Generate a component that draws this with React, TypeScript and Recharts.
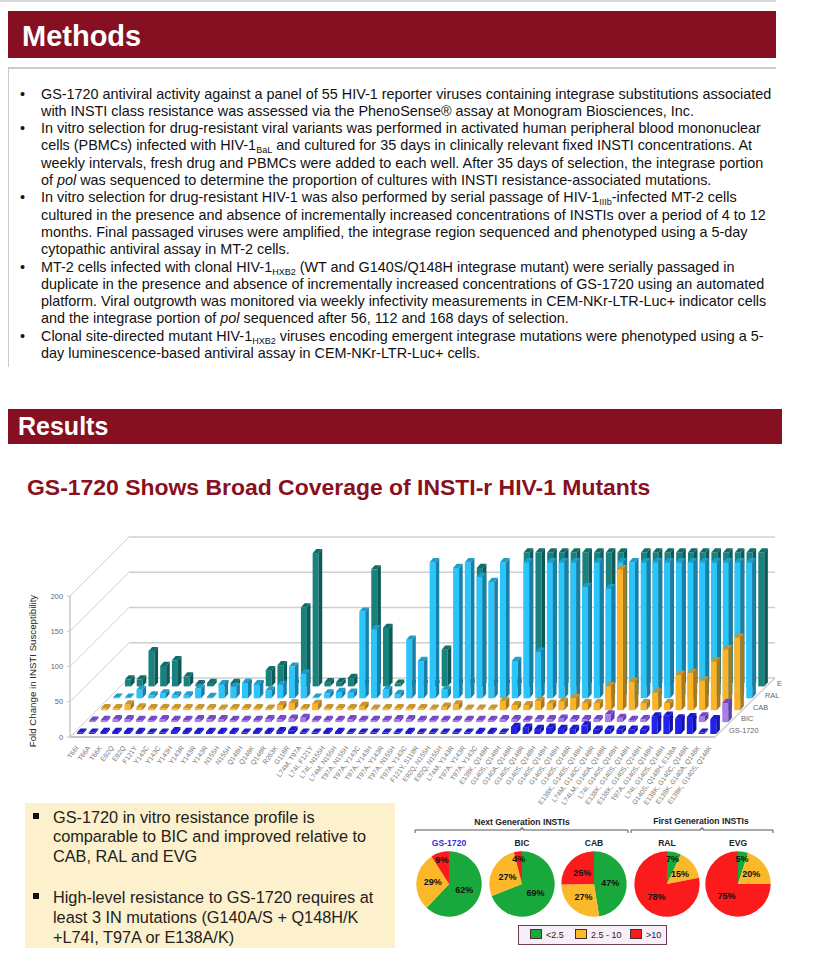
import { Bar, BarChart, Cell, Pie, PieChart, XAxis, YAxis } from "recharts";

const mutants = [
  "T66I", "T66A", "T66K", "E92Q", "E92Q", "F121Y", "Y143C", "Y143C", "Y143H", "Y143R", "Y143R", "Y143R",
  "N155H", "N155H", "Q148H", "Q148K", "Q148R", "R263K", "G118R", "L74M, T97A", "L74I, F121Y", "L74I, N155H",
  "L74M, N155H", "T97A, N155H", "T97A, Y143C", "T97A, Y143H", "T97A, Y143R", "T97A, N155H", "T97A, Y143C",
  "F121Y, S119R", "E92Q, N155H", "E92Q, N155H", "L74M, Y143R", "T97A, Y143R", "T97A, Y143C", "E138K, Q148R",
  "G140S, Q148H", "G140A, Q148R", "G140S, Q148R", "G140S, Q148H", "G140S, Q148H", "G140S, Q148H", "G140S, Q148R",
  "E138K, G140S, Q148H", "L74M, G140C, Q148R", "L74I,M, G140A, Q148R", "L74I, G140S, Q148H", "E138K, G140S, Q148H",
  "E138K, G140S, Q148H", "T97A, G140S, Q148H", "L74I, G140S, Q148H", "G140S, Q148H, E138A", "E138K, G140C, Q148R",
  "E138K, G140A, Q148K", "E138K, G140S, Q148K"
];

const gs1720 = [
  2, 2, 3, 3, 3, 3, 2, 2, 4, 3, 3, 3, 3, 3, 2, 3, 3, 4, 5, 2, 2, 3, 3, 2, 2, 2, 2, 2, 3, 2, 2, 2, 2, 2, 3, 3, 2,
  10, 9, 7, 9, 7, 7, 12, 6, 6, 6, 6, 6, 25, 26, 22, 24, 2, 21
];
const bic = [
  2, 3, 4, 4, 3, 3, 4, 3, 3, 4, 4, 4, 3, 3, 3, 4, 4, 5, 6, 3, 3, 3, 4, 3, 3, 3, 4, 4, 3, 3, 3, 3, 3, 3, 3, 4, 4,
  3, 4, 4, 5, 4, 4, 4, 11, 6, 3, 4, 3, 3, 3, 3, 8, 3, 27
];
const cab = [
  3, 3, 8, 4, 3, 3, 3, 3, 3, 3, 2, 3, 3, 3, 2, 7, 10, 3, 9, 3, 3, 3, 6, 2, 3, 3, 3, 3, 2, 5, 8, 2, 2, 2, 13, 7, 7,
  13, 9, 12, 17, 10, 10, 34, 200, 40, 10, 25, 10, 50, 53, 42, 69, 86, 103
];
const ral = [
  1, 1, 12, 4, 7, 4, 4, 14, 2, 20, 16, 22, 20, 11, 19, 45, 35, 1, 7, 9, 8, 123, 98, 12, 6, 83, 53, 193, 12, 185,
  193, 172, 165, 193, 53, 193, 66, 193, 193, 193, 158, 193, 156, 193, 193, 193, 193, 193, 193, 193, 193, 193, 193,
  193, 193
];
const evg = [
  10, 10, 50, 29, 37, 14, 3, 5, 3, 5, 3, 3, 23, 30, 4, 112, 189, 6, 6, 12, 3, 166, 83, 4, 3, 3, 3, 52, 5, 5, 168,
  4, 4, 5, 190, 190, 190, 190, 190, 190, 190, 190, 190, 4, 190, 190, 190, 190, 190, 190, 190, 190, 190, 190, 190
];

const foldTicks = [0, 50, 100, 150, 200];
const rowNames = ["GS-1720", "BIC", "CAB", "RAL", "EVG"];

const barRows = [
  { key: "evg", row: 4, front: "#17827e", side: "#0d5a56", top: "#0f6e6a" },
  { key: "ral", row: 3, front: "#2ac5fa", side: "#1a7fa6", top: "#1f9ecb" },
  { key: "cab", row: 2, front: "#fbb428", side: "#a87a1c", top: "#c9952a" },
  { key: "bic", row: 1, front: "#a77fe6", side: "#5f3fb0", top: "#7447c8" },
  { key: "gs", row: 0, front: "#2222ee", side: "#1414a8", top: "#1a1ac8" }
];

const chartRows = mutants.map((name, i) => ({
  name,
  gs: gs1720[i],
  bic: bic[i],
  cab: cab[i],
  ral: ral[i],
  evg: evg[i]
}));

const pieGroups = [
  { name: "GS-1720", cx: 44, values: [62, 29, 9], nameFill: "#3a2be0" },
  { name: "BIC", cx: 117, values: [69, 27, 4], nameFill: "#222" },
  { name: "CAB", cx: 189, values: [47, 27, 25], nameFill: "#222" },
  { name: "RAL", cx: 262, values: [7, 15, 78], nameFill: "#222" },
  { name: "EVG", cx: 333, values: [5, 20, 75], nameFill: "#222" }
];
const pieBands = ["<2.5", "2.5 - 10", ">10"];
const pieColors = ["#19a83b", "#fbb829", "#fb1a1c"];

const methodLines = [
  [true, <>GS-1720 antiviral activity against a panel of 55 HIV-1 reporter viruses containing integrase substitutions associated</>],
  [false, <>with INSTI class resistance was assessed via the PhenoSense® assay at Monogram Biosciences, Inc.</>],
  [true, <>In vitro selection for drug-resistant viral variants was performed in activated human peripheral blood mononuclear</>],
  [false, <>cells (PBMCs) infected with HIV-1<Sub>BaL</Sub> and cultured for 35 days in clinically relevant fixed INSTI concentrations. At</>],
  [false, <>weekly intervals, fresh drug and PBMCs were added to each well. After 35 days of selection, the integrase portion</>],
  [false, <>of <i>pol</i> was sequenced to determine the proportion of cultures with INSTI resistance-associated mutations.</>],
  [true, <>In vitro selection for drug-resistant HIV-1 was also performed by serial passage of HIV-1<Sub>IIIb</Sub>-infected MT-2 cells</>],
  [false, <>cultured in the presence and absence of incrementally increased concentrations of INSTIs over a period of 4 to 12</>],
  [false, <>months. Final passaged viruses were amplified, the integrase region sequenced and phenotyped using a 5-day</>],
  [false, <>cytopathic antiviral assay in MT-2 cells.</>],
  [true, <>MT-2 cells infected with clonal HIV-1<Sub>HXB2</Sub> (WT and G140S/Q148H integrase mutant) were serially passaged in</>],
  [false, <>duplicate in the presence and absence of incrementally increased concentrations of GS-1720 using an automated</>],
  [false, <>platform. Viral outgrowth was monitored via weekly infectivity measurements in CEM-NKr-LTR-Luc+ indicator cells</>],
  [false, <>and the integrase portion of <i>pol</i> sequenced after 56, 112 and 168 days of selection.</>],
  [true, <>Clonal site-directed mutant HIV-1<Sub>HXB2</Sub> viruses encoding emergent integrase mutations were phenotyped using a 5-</>],
  [false, <>day luminescence-based antiviral assay in CEM-NKr-LTR-Luc+ cells.</>]
] as const;

const noteLines = [
  [true, 808, "GS-1720 in vitro resistance profile is"],
  [false, 827, "comparable to BIC and improved relative to"],
  [false, 847, "CAB, RAL and EVG"],
  [true, 888, "High-level resistance to GS-1720 requires at"],
  [false, 908, "least 3 IN mutations (G140A/S + Q148H/K"],
  [false, 928, "+L74I, T97A or E138A/K)"]
] as const;

const sans = '"Liberation Sans", Arial, sans-serif';
const chartTop = 520;
const plotLeft = 70;
const plotRight = 715;
const plotBottom = 737 - chartTop;
const plotHeight = 141;
const foldToY = (v: number) => plotBottom - (v / 200) * plotHeight;

function Sub({ children }: { children: React.ReactNode }) {
  return <sub style={{ fontSize: 9, lineHeight: 0, verticalAlign: -3 }}>{children}</sub>;
}

function Prism(props: any) {
  const { x, y, width, height, row, front, side, top } = props;
  const dx = 4 + 12 * row;
  const dy = -3 - 11.9 * row;
  const left = x + dx;
  const right = left + width;
  const upper = y + dy;
  const lower = upper + height;
  const ox = 3.6;
  const oy = -4.2;
  return (
    <g>
      <rect x={left} y={upper} width={width} height={height} fill={front} />
      <polygon
        points={`${right},${upper} ${right + ox},${upper + oy} ${right + ox},${lower + oy} ${right},${lower}`}
        fill={side}
      />
      <polygon
        points={`${left},${upper} ${left + ox},${upper + oy} ${right + ox},${upper + oy} ${right},${upper}`}
        fill={top}
      />
    </g>
  );
}

function MutantTick(props: any) {
  const { x, y, payload } = props;
  return (
    <g transform={`translate(${x + 3},${y + 3})`}>
      <text transform="rotate(-54)" textAnchor="end" fontSize={6.8} fill="#777" fontFamily={sans}>
        {payload.value}
      </text>
    </g>
  );
}

function Walls() {
  const back = 59;
  const grid = "#cfcfcf";
  return (
    <g>
      {foldTicks.map((v) => (
        <g key={v}>
          <line x1={plotLeft} y1={foldToY(v)} x2={plotLeft + back} y2={foldToY(v) - back} stroke={grid} strokeWidth={1} />
          <line x1={plotLeft + back} y1={foldToY(v) - back} x2={plotRight + 60} y2={foldToY(v) - back} stroke={grid} strokeWidth={1.5} />
        </g>
      ))}
      <line x1={plotRight} y1={plotBottom} x2={plotRight + 60} y2={plotBottom - back} stroke={grid} strokeWidth={1.5} />
    </g>
  );
}

function RowLabels() {
  return (
    <g>
      {rowNames.map((name, k) => (
        <text key={name} x={729 + 12 * k} y={plotBottom - 4 - 11.7 * k} fontSize={7.4} fill="#666" fontFamily={sans}>
          {name}
        </text>
      ))}
    </g>
  );
}

function FoldChart() {
  return (
    <div style={{ position: "absolute", left: 0, top: chartTop, width: 782, height: 320 }}>
      <BarChart
        width={782}
        height={320}
        data={chartRows}
        margin={{ top: plotBottom - plotHeight, right: 782 - plotRight, bottom: 0, left: 0 }}
        barSize={6}
        barGap={-6}
      >
        <Walls />
        <XAxis
          dataKey="name"
          interval={0}
          height={320 - plotBottom}
          tick={<MutantTick />}
          tickLine={false}
          axisLine={{ stroke: "#c8c8c8", strokeWidth: 2 }}
        />
        <YAxis
          width={plotLeft}
          domain={[0, 200]}
          ticks={foldTicks}
          tick={{ fontSize: 7.4, fill: "#666", fontFamily: sans }}
          tickSize={3}
          tickMargin={4}
          tickLine={{ stroke: "#c8c8c8" }}
          axisLine={{ stroke: "#c8c8c8", strokeWidth: 1.5 }}
        />
        {barRows.map((s) => (
          <Bar
            key={s.key}
            dataKey={s.key}
            isAnimationActive={false}
            shape={(p: any) => <Prism {...p} row={s.row} front={s.front} side={s.side} top={s.top} />}
          />
        ))}
        <RowLabels />
        <text
          transform={`rotate(-90 36 ${671 - chartTop})`}
          x={36}
          y={671 - chartTop}
          textAnchor="middle"
          fontSize={9.7}
          fill="#222"
          fontFamily={sans}
        >
          Fold Change in INSTI Susceptibility
        </text>
      </BarChart>
    </div>
  );
}

function PieLabel(props: any) {
  const { cx, cy, midAngle, outerRadius, value } = props;
  const share = value < 10 ? 0.78 : 0.5;
  const rad = (midAngle * Math.PI) / 180;
  return (
    <text
      x={cx + outerRadius * share * Math.cos(rad)}
      y={cy - outerRadius * share * Math.sin(rad)}
      textAnchor="middle"
      dominantBaseline="central"
      fontSize={9}
      fontWeight="bold"
      fill="#111"
      fontFamily={sans}
    >
      {value}%
    </text>
  );
}

function PieRow() {
  const heading = { fontSize: 8.6, fontWeight: "bold", fill: "#222", fontFamily: sans, textAnchor: "middle" } as const;
  return (
    <div style={{ position: "absolute", left: 405, top: 805, width: 400, height: 125 }}>
      <PieChart width={400} height={125} margin={{ top: 0, right: 0, bottom: 0, left: 0 }}>
        <text x={117} y={19.5} {...heading}>Next Generation INSTIs</text>
        <text x={296} y={19} {...heading}>First Generation INSTIs</text>
        <path d="M10 28 V25 H116 V23 H118 V25 H223 V28" fill="none" stroke="#444" strokeWidth={0.9} />
        <path d="M226 28 V25 H296 V23 H298 V25 H368 V28" fill="none" stroke="#444" strokeWidth={0.9} />
        {pieGroups.map((g) => (
          <text key={g.name} x={g.cx} y={41} {...heading} fill={g.nameFill}>
            {g.name}
          </text>
        ))}
        {pieGroups.map((g) => (
          <Pie
            key={g.name}
            data={g.values.map((value, i) => ({ name: pieBands[i], value }))}
            dataKey="value"
            nameKey="name"
            cx={g.cx}
            cy={79}
            outerRadius={32.7}
            startAngle={90}
            endAngle={-270}
            stroke="none"
            isAnimationActive={false}
            labelLine={false}
            label={<PieLabel />}
          >
            {g.values.map((_, i) => (
              <Cell key={i} fill={pieColors[i]} />
            ))}
          </Pie>
        ))}
      </PieChart>
    </div>
  );
}

function PieLegend() {
  return (
    <div
      style={{
        position: "absolute",
        left: 518,
        top: 925,
        width: 149,
        height: 20,
        background: "#f7eef7",
        border: "1px solid #6d3a58",
        boxSizing: "border-box",
        fontFamily: sans,
        fontSize: 9,
        color: "#222"
      }}
    >
      {pieBands.map((band, i) => (
        <span key={band} style={{ position: "absolute", left: [11, 56, 111][i], top: 3, whiteSpace: "nowrap" }}>
          <span
            style={{
              display: "inline-block",
              width: 12,
              height: 10,
              background: pieColors[i],
              border: "1px solid #4a2a2a",
              boxSizing: "border-box",
              marginRight: 4,
              verticalAlign: -1
            }}
          />
          {band}
        </span>
      ))}
    </div>
  );
}

export default function App() {
  const banner = { position: "absolute", background: "#860f22", color: "#fff", fontWeight: "bold" } as const;
  return (
    <div style={{ position: "absolute", left: 0, top: 0, width: 827, height: 974, background: "#fff", overflow: "hidden", fontFamily: sans }}>
      <div style={{ position: "absolute", left: 0, top: 0, width: 776, height: 2, background: "#d8d8d8" }} />
      <div style={{ ...banner, left: 8, top: 11, width: 768, height: 47, fontSize: 29, lineHeight: "50px", paddingLeft: 14, boxSizing: "border-box" }}>
        Methods
      </div>
      <div style={{ position: "absolute", left: 8, top: 67, width: 768, height: 300, borderTop: "2px solid #c3d0c3", borderLeft: "1px solid #c3d0c3", boxSizing: "border-box" }} />
      {methodLines.map(([bullet, line], i) => (
        <div key={i} style={{ position: "absolute", left: 41, top: 85.5 + i * 17.3, whiteSpace: "nowrap", fontSize: 14.4, lineHeight: "17px", color: "#111" }}>
          {bullet && <span style={{ position: "absolute", left: -21 }}>•</span>}
          {line}
        </div>
      ))}
      <div style={{ ...banner, left: 8, top: 409, width: 774, height: 35, fontSize: 25, lineHeight: "35px", paddingLeft: 10, boxSizing: "border-box" }}>
        Results
      </div>
      <div style={{ position: "absolute", left: 27, top: 473, whiteSpace: "nowrap", fontSize: 22.95, lineHeight: "28px", fontWeight: "bold", color: "#8a1020" }}>
        GS-1720 Shows Broad Coverage of INSTI-r HIV-1 Mutants
      </div>
      <FoldChart />
      <div style={{ position: "absolute", left: 25, top: 803, width: 370, height: 145, background: "#fdf0cc" }} />
      {noteLines.map(([bullet, y, line]) => (
        <div key={line} style={{ position: "absolute", left: 53, top: y, whiteSpace: "nowrap", fontSize: 16.3, lineHeight: "18px", color: "#222" }}>
          {bullet && <span style={{ position: "absolute", left: -20, top: 5, width: 6, height: 6, background: "#111" }} />}
          {line}
        </div>
      ))}
      <PieRow />
      <PieLegend />
    </div>
  );
}
